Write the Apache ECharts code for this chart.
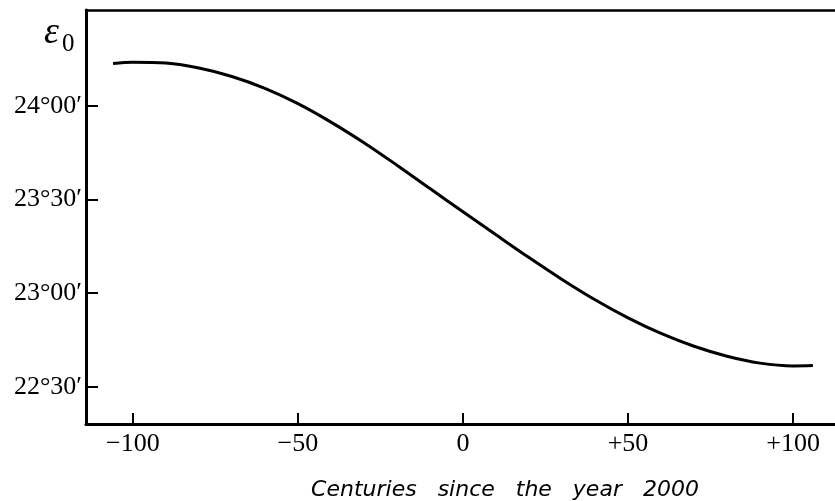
<!DOCTYPE html>
<html>
  <head>
    <meta charset="utf-8" />
    <title>Obliquity of the ecliptic</title>
    <script src="https://cdn.jsdelivr.net/npm/echarts@6/dist/echarts.min.js"></script>
    <style>
      html, body { margin: 0; padding: 0; background: #fff; }
    </style>
  </head>
  <body>
    <div id="main" style="width: 835px; height: 501px;"></div>
    <script>
      // centuries since 2000 and obliquity in arcminutes (24°00' = 1440)
      var centuries = [-106, -100, -90, -80, -70, -60, -50, -40, -30, -20, -10, 0,
        10, 20, 30, 40, 50, 60, 70, 80, 90, 100, 106]
      var obliquity = [1453.6, 1454.0, 1453.7, 1452.1, 1449.4, 1445.6, 1440.7, 1434.8,
        1428.2, 1421.0, 1413.5, 1406.1, 1398.7, 1391.4, 1384.4, 1377.9, 1372.1,
        1367.1, 1363.0, 1359.8, 1357.6, 1356.7, 1356.8]

      var xTicks = [-100, -50, 0, 50, 100]
      var yTicks = [1350, 1380, 1410, 1440]

      var points = centuries.map(function (c, i) { return [c, obliquity[i]] })

      function fmtX(v) {
        if (v < 0) return '\u2212' + Math.abs(v)
        if (v > 0) return '+' + v
        return '0'
      }
      function fmtY(v) {
        var d = Math.floor(v / 60)
        var m = Math.round(v - d * 60)
        return d + '°' + (m < 10 ? '0' + m : m) + '\u2032'
      }

      var myChart = echarts.init(document.getElementById('main'))
      var option = {
        animation: false,
        grid: { left: 86, right: 0, top: 10, bottom: 77 },
        xAxis: [
          {
            type: 'value',
            min: -114.2,
            max: 112.7,
            axisLine: { show: true, onZero: false, lineStyle: { color: '#000', width: 3 } },
            axisTick: { inside: true, length: 11, customValues: xTicks, lineStyle: { color: '#000', width: 2 } },
            axisLabel: {
              customValues: xTicks,
              formatter: fmtX,
              margin: 7,
              color: '#000',
              fontSize: 26,
              fontFamily: 'Liberation Serif'
            },
            splitLine: { show: false }
          },
          {
            type: 'value',
            position: 'top',
            min: -114.2,
            max: 112.7,
            axisLine: { show: true, onZero: false, lineStyle: { color: '#000', width: 2.5 } },
            axisTick: { show: false },
            axisLabel: { show: false },
            splitLine: { show: false }
          }
        ],
        yAxis: {
          type: 'value',
          min: 1338.1,
          max: 1470.7,
          axisLine: { show: true, onZero: false, lineStyle: { color: '#000', width: 3 } },
          axisTick: { show: true, inside: true, length: 12, customValues: yTicks, lineStyle: { color: '#000', width: 2 } },
          axisLabel: {
            customValues: yTicks,
            formatter: fmtY,
            margin: 4,
            color: '#000',
            fontSize: 26,
            fontFamily: 'Liberation Serif'
          },
          splitLine: { show: false }
        },
        graphic: [
          {
            type: 'text',
            style: {
              x: 44, y: 52,
              text: 'ε',
              font: 'italic 38px "Liberation Serif"',
              fill: '#000',
              textAlign: 'left',
              textVerticalAlign: 'bottom'
            }
          },
          {
            type: 'text',
            style: {
              x: 62, y: 57,
              text: '0',
              font: '25px "Liberation Serif"',
              fill: '#000',
              textAlign: 'left',
              textVerticalAlign: 'bottom'
            }
          },
          {
            type: 'text',
            style: {
              x: 505, y: 490,
              text: 'Centuries   since   the   year   2000',
              font: 'italic 22px "DejaVu Sans"',
              fill: '#000',
              textAlign: 'center',
              textVerticalAlign: 'middle'
            }
          }
        ],
        series: [
          {
            type: 'line',
            data: points,
            smooth: 0.35,
            showSymbol: false,
            lineStyle: { color: '#000', width: 3 }
          }
        ]
      }
      myChart.setOption(option)
    </script>
  </body>
</html>
